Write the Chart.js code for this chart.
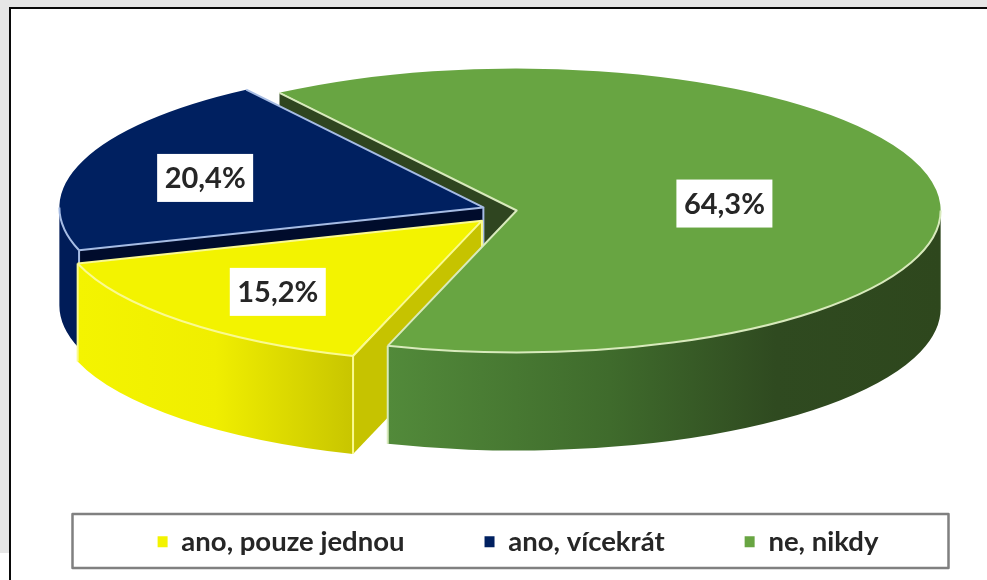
<!DOCTYPE html>
<html>
<head>
<meta charset="utf-8">
<style>
    body { margin: 0; background: #ffffff; }
    canvas { display: block; }
</style>
<script src="https://cdn.jsdelivr.net/npm/chart.js@4"></script>
</head>
<body>
<canvas id="pieChart" width="987" height="580"></canvas>
<script>
const categories = ['ano, pouze jednou', 'ano, vícekrát', 'ne, nikdy'];
const shares = [15.2, 20.4, 64.3];

const topColors = ['#f3f300', '#002060', '#68a542'];
const edgeColors = ['#fafa90', '#a6bce4', '#d8eabc'];
const faceColors = ['#c6c300', '#000c2c', '#2f4520'];
const explode = [168, 120, 20]; // Chart.js moves an arc by a quarter of its offset
const labelRadius = [0.68, 0.695, 0.495];

const squash = 0.335; // height of the top ellipse against its width
const depth = 98; // height of the pie wall
const pieRadius = 424;

function offsetOf(arc) {
    const mid = (arc.startAngle + arc.endAngle) / 2;
    const offset = arc.options.offset / 4;
    return { x: Math.cos(mid) * offset, y: Math.sin(mid) * offset * squash };
}

function pointOn(arc, angle, radius) {
    const off = offsetOf(arc);
    return {
        x: arc.x + off.x + Math.cos(angle) * radius,
        y: arc.y + off.y + Math.sin(angle) * radius * squash,
    };
}

function wallGradient(ctx, index) {
    if (index === 1) return '#001c58';
    const g = ctx.createLinearGradient(index === 0 ? 78 : 388, 0, index === 0 ? 354 : 942, 0);
    if (index === 0) {
        g.addColorStop(0, '#f4f400');
        g.addColorStop(0.5, '#f0ee00');
        g.addColorStop(1, '#c8c500');
    } else {
        g.addColorStop(0, '#528a3a');
        g.addColorStop(0.4, '#3f6b2c');
        g.addColorStop(0.7, '#2f4a20');
        g.addColorStop(1, '#2e471d');
    }
    return g;
}

// parts of the outer edge that face the viewer
function frontRanges(arc) {
    const ranges = [];
    [0, Math.PI * 2].forEach((base) => {
        const from = Math.max(arc.startAngle, base);
        const to = Math.min(arc.endAngle, base + Math.PI);
        if (to > from) ranges.push([from, to]);
    });
    return ranges;
}

function drawFace(ctx, arc, angle, index) {
    const a = pointOn(arc, angle, 0);
    const b = pointOn(arc, angle, pieRadius);
    ctx.beginPath();
    ctx.moveTo(a.x, a.y);
    ctx.lineTo(b.x, b.y);
    ctx.lineTo(b.x, b.y + depth);
    ctx.lineTo(a.x, a.y + depth);
    ctx.closePath();
    ctx.fillStyle = faceColors[index];
    ctx.fill();
    // inner corner of the slice
    ctx.strokeStyle = edgeColors[index];
    ctx.lineWidth = 2;
    ctx.beginPath();
    ctx.moveTo(a.x, a.y);
    ctx.lineTo(a.x, a.y + depth);
    ctx.stroke();
}

function drawWall(ctx, arc, index) {
    const c = pointOn(arc, 0, 0);
    const r = pieRadius;
    frontRanges(arc).forEach(([from, to]) => {
        ctx.beginPath();
        ctx.ellipse(c.x, c.y, r, r * squash, 0, from, to);
        ctx.ellipse(c.x, c.y + depth, r, r * squash, 0, to, from, true);
        ctx.closePath();
        ctx.fillStyle = wallGradient(ctx, index);
        ctx.fill();
        ctx.strokeStyle = edgeColors[index];
        ctx.lineWidth = 2;
        [[from, arc.startAngle], [to, arc.endAngle]].forEach(([angle, limit]) => {
            if (angle !== limit) return;
            const p = pointOn(arc, angle, r);
            ctx.beginPath();
            ctx.moveTo(p.x, p.y);
            ctx.lineTo(p.x, p.y + depth);
            ctx.stroke();
        });
    });
}

const pie3d = {
    id: 'pie3d',
    beforeDraw(chart) {
        const ctx = chart.ctx;
        ctx.save();
        ctx.fillStyle = '#e6e6e6';
        ctx.fillRect(0, 0, 987, 8);
        ctx.fillRect(0, 0, 10, 553);
        ctx.fillStyle = '#0a0a0a';
        ctx.fillRect(9, 7, 978, 2);
        ctx.fillRect(9, 7, 2, 573);
        ctx.restore();
    },
    afterLayout(chart) {
        // legend row sits lower and a bit further right than the default spot
        const legend = chart.legend;
        const h = legend.bottom - legend.top;
        legend.top = 448;
        legend.bottom = legend.top + h;
        legend.left += 6.3;
        legend.right += 6.3;
    },
    beforeDatasetsDraw(chart) {
        const ctx = chart.ctx;
        const arcs = chart.getDatasetMeta(0).data;

        arcs.forEach((arc) => {
            // an offset arc is also drawn larger, take that back so all slices share one radius
            const grow = arc.options.offset / 4 * (1 - Math.sin(Math.min(Math.PI, arc.circumference)));
            arc.outerRadius = pieRadius - grow;
        });
        [2, 1, 0].forEach((i) => {
            const arc = arcs[i];
            if (-Math.cos(arc.startAngle) > 0) drawFace(ctx, arc, arc.startAngle, i);
            if (Math.cos(arc.endAngle) > 0) drawFace(ctx, arc, arc.endAngle, i);
        });
        [1, 0, 2].forEach((i) => drawWall(ctx, arcs[i], i));

        // library draws the slices, flattened to ellipses
        ctx.save();
        ctx.translate(arcs[0].x, arcs[0].y);
        ctx.scale(1, squash);
        ctx.translate(-arcs[0].x, -arcs[0].y);
    },
    afterDatasetsDraw(chart) {
        const ctx = chart.ctx;
        const arcs = chart.getDatasetMeta(0).data;
        ctx.restore();

        // pale rim on the slice edges
        arcs.forEach((arc, i) => {
            const c = pointOn(arc, 0, 0);
            const r = pieRadius;
            const a = pointOn(arc, arc.startAngle, r);
            const b = pointOn(arc, arc.endAngle, r);
            ctx.strokeStyle = edgeColors[i];
            ctx.lineWidth = 2;
            ctx.lineJoin = 'round';
            ctx.beginPath();
            ctx.moveTo(a.x, a.y);
            ctx.lineTo(c.x, c.y);
            ctx.lineTo(b.x, b.y);
            ctx.stroke();
            frontRanges(arc).forEach(([from, to]) => {
                ctx.beginPath();
                ctx.ellipse(c.x, c.y, r, r * squash, 0, from, to);
                ctx.stroke();
            });
        });

        // value labels on white boxes
        ctx.font = 'bold 29px Lato';
        ctx.textAlign = 'center';
        ctx.textBaseline = 'middle';
        arcs.forEach((arc, i) => {
            const mid = (arc.startAngle + arc.endAngle) / 2;
            const p = pointOn(arc, mid, pieRadius * labelRadius[i]);
            ctx.fillStyle = '#ffffff';
            ctx.fillRect(p.x - 48, p.y - 21, 96, 48);
            ctx.fillStyle = '#262626';
            ctx.fillText(shares[i].toFixed(1).replace('.', ',') + '%', p.x, p.y + 4);
        });

        // legend frame
        ctx.strokeStyle = '#808080';
        ctx.lineWidth = 2.5;
        ctx.strokeRect(72.5, 514, 876, 54);
    },
};

new Chart(document.getElementById('pieChart'), {
    type: 'pie',
    data: {
        labels: categories,
        datasets: [{
            data: shares,
            backgroundColor: topColors,
            borderWidth: 0,
            offset: explode,
            radius: pieRadius,
            clip: false,
        }],
    },
    options: {
        responsive: false,
        animation: false,
        rotation: 197.7,
        layout: { padding: { left: 36.4, bottom: 41 } },
        plugins: {
            tooltip: { enabled: false },
            legend: {
                position: 'bottom',
                labels: {
                    boxWidth: 10,
                    boxHeight: 11,
                    padding: 80,
                    color: '#262626',
                    font: { family: 'Lato', size: 27.5, weight: 'bold' },
                },
            },
        },
    },
    plugins: [pie3d],
});
</script>
</body>
</html>
